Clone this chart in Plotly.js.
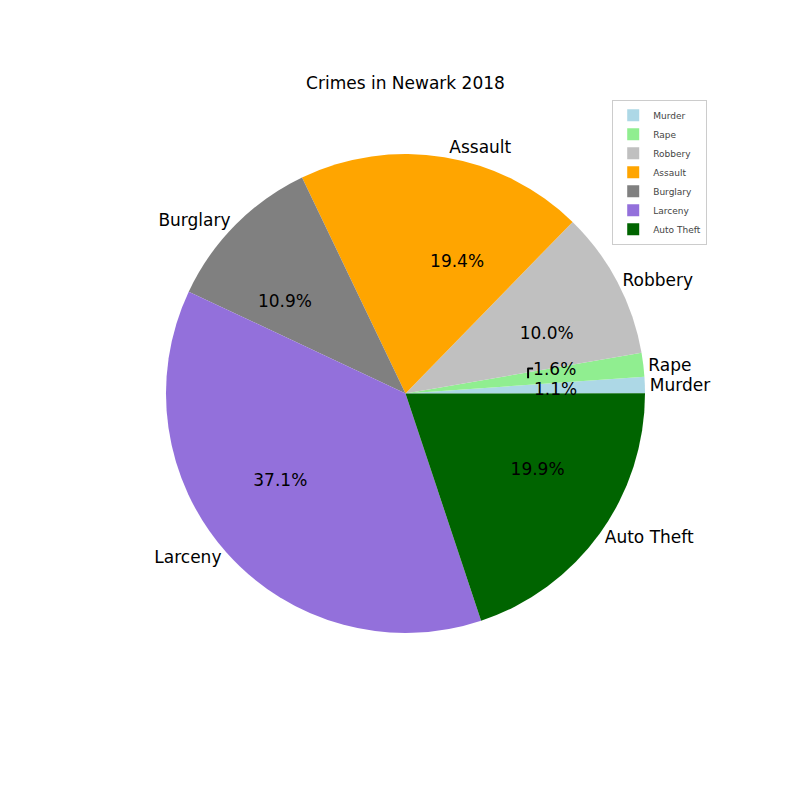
<!DOCTYPE html>
<html>
<head>
<script src="https://cdn.plot.ly/plotly-3.0.1.min.js"></script>
<style>body{margin:0;background:#fff}</style>
</head>
<body>
<div id="chart" style="width:792px;height:792px"></div>
<script>
// Crime shares (percent)
var crimes = ['Murder', 'Rape', 'Robbery', 'Assault', 'Burglary', 'Larceny', 'Auto Theft'];
var shares = [1.1, 1.6, 10.0, 19.4, 10.9, 37.1, 19.9];
var colors = ['lightblue', 'lightgreen', 'silver', 'orange', 'gray', 'mediumpurple', 'darkgreen'];

var font = {family: 'DejaVu Sans', size: 17, color: 'black'};
var clear = crimes.map(function () { return 'rgba(0,0,0,0)'; });
var rot = 86;

function pie(domain, extra) {
    var t = {
        type: 'pie', labels: crimes, values: shares, sort: false,
        direction: 'counterclockwise', rotation: rot,
        domain: domain, hoverinfo: 'none', automargin: false
    };
    for (var k in extra) t[k] = extra[k];
    return t;
}

// coloured slices
var slices = pie({x: [0.2096, 0.8144], y: [0.2008, 0.8056]}, {
    marker: {colors: colors}, textinfo: 'none'
});

// transparent copy, names outside the pie
var names = pie({x: [0.2096, 0.8144], y: [0.2008, 0.8056]}, {
    marker: {colors: clear}, texttemplate: '%{label}', textposition: 'outside',
    outsidetextfont: font, showlegend: false
});

// smaller transparent copy, percentages at about 0.6 of the radius
var pcts = pie({x: [0.3548, 0.6679], y: [0.3472, 0.6604]}, {
    marker: {colors: clear}, texttemplate: '%{percent:.1%}', textposition: 'outside',
    outsidetextfont: font, showlegend: false
});

var layout = {
    title: {text: 'Crimes in Newark 2018', font: {family: 'DejaVu Sans', size: 17, color: 'black'},
            x: 0.512, xanchor: 'center', y: 0.895, yanchor: 'middle'},
    margin: {l: 0, r: 0, t: 0, b: 0},
    showlegend: true,
    legend: {x: 0.773, y: 0.874, xanchor: 'left', yanchor: 'top',
             font: {family: 'DejaVu Sans', size: 9}, bordercolor: '#ccc', borderwidth: 1,
             tracegroupgap: 0, itemwidth: 30},
    paper_bgcolor: 'white'
};

Plotly.newPlot('chart', [slices, names, pcts], layout, {displayModeBar: false});
</script>
</body>
</html>
